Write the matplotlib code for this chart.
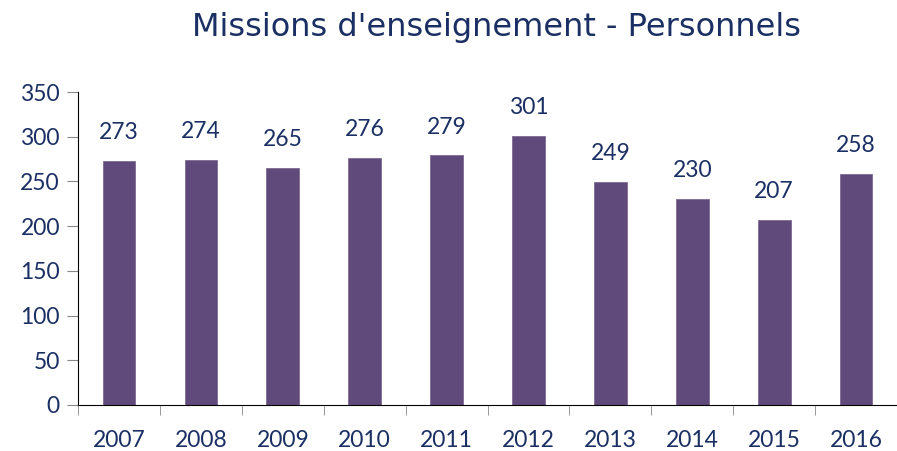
import numpy as np
import matplotlib.pyplot as plt

# Données
annees = ["2007", "2008", "2009", "2010", "2011", "2012", "2013", "2014", "2015", "2016"]
personnels = [273, 274, 265, 276, 279, 301, 249, 230, 207, 258]

couleur_barre = "#604a7b"
couleur_texte = "#1a2f63"

fig = plt.figure(figsize=(8.97, 4.51), dpi=100)
ax = fig.add_axes([0.087, 0.102, 0.913, 0.694])

x = np.arange(len(annees))
barres = ax.bar(x, personnels, width=0.4, color=couleur_barre, edgecolor="#7d6a94", linewidth=0.6)

for xi, v in zip(x, personnels):
    ax.annotate(str(v), (xi, v), xytext=(0, 20.5), textcoords="offset points",
                ha="center", va="center", fontsize=16.5, color=couleur_texte, family="Lato")

ax.set_xlim(-0.5, len(annees) - 0.5)
ax.set_ylim(0, 350)
ax.set_yticks(range(0, 351, 50))
ax.set_xticks(x)
ax.set_xticklabels(annees)
ax.set_xticks(np.arange(-0.5, len(annees), 1), minor=True)

ax.tick_params(axis="x", which="major", length=0, pad=18, labelsize=16.5, labelcolor=couleur_texte)
ax.tick_params(axis="x", which="minor", length=7, color="#888888", direction="out")
ax.tick_params(axis="y", length=8, color="#888888", labelsize=16.5, labelcolor=couleur_texte, pad=5)
for lab in ax.get_xticklabels() + ax.get_yticklabels():
    lab.set_family("Lato")

ax.spines["top"].set_visible(False)
ax.spines["right"].set_visible(False)
ax.spines["left"].set_color("black")
ax.spines["bottom"].set_color("black")

fig.text(0.554, 0.94, "Missions d'enseignement - Personnels", ha="center", va="center",
         fontsize=23, color=couleur_texte, family="DejaVu Sans")

plt.savefig("out.png")
plt.close()
